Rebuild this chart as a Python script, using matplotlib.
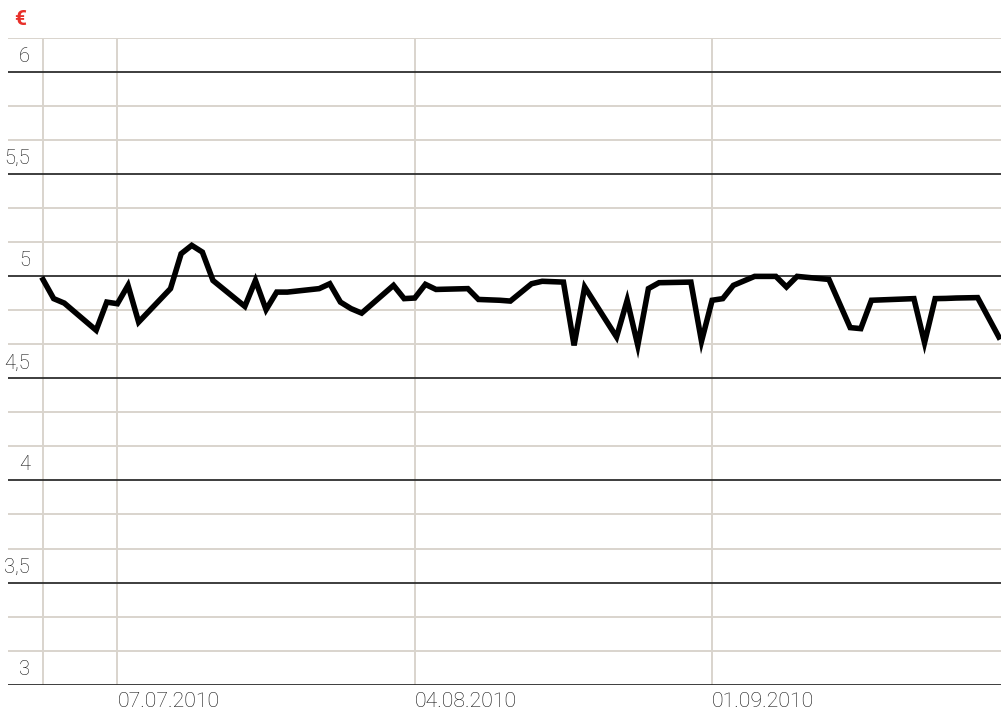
import numpy as np
import pandas as pd
import matplotlib
matplotlib.use("Agg")
import matplotlib.pyplot as plt
import matplotlib.dates as mdates

plt.rcParams['font.family'] = ['Roboto', 'DejaVu Sans']

# share price in EUR
dates = ['2010-06-30', '2010-07-01', '2010-07-02', '2010-07-05', '2010-07-06',
         '2010-07-07', '2010-07-08', '2010-07-09', '2010-07-12', '2010-07-13',
         '2010-07-14', '2010-07-15', '2010-07-16', '2010-07-19', '2010-07-20',
         '2010-07-21', '2010-07-22', '2010-07-23', '2010-07-26', '2010-07-27',
         '2010-07-28', '2010-07-29', '2010-07-30', '2010-08-02', '2010-08-03',
         '2010-08-04', '2010-08-05', '2010-08-06', '2010-08-09', '2010-08-10',
         '2010-08-11', '2010-08-12', '2010-08-13', '2010-08-15', '2010-08-16',
         '2010-08-18', '2010-08-19', '2010-08-20', '2010-08-23', '2010-08-24',
         '2010-08-25', '2010-08-26', '2010-08-27', '2010-08-30', '2010-08-31',
         '2010-09-01', '2010-09-02', '2010-09-03', '2010-09-05', '2010-09-07',
         '2010-09-08', '2010-09-09', '2010-09-12', '2010-09-14', '2010-09-15',
         '2010-09-16', '2010-09-20', '2010-09-21', '2010-09-22', '2010-09-23',
         '2010-09-24', '2010-09-26', '2010-09-28']
prices = [4.984, 4.891, 4.869, 4.736, 4.874,
          4.866, 4.956, 4.776, 4.940, 5.111,
          5.152, 5.119, 4.980, 4.853, 4.980,
          4.837, 4.923, 4.923, 4.940, 4.964,
          4.874, 4.842, 4.820, 4.956, 4.891,
          4.894, 4.961, 4.936, 4.940, 4.887,
          4.885, 4.883, 4.879, 4.964, 4.976,
          4.972, 4.662, 4.948, 4.703, 4.883,
          4.662, 4.940, 4.969, 4.972, 4.682,
          4.883, 4.891, 4.956, 5.000, 5.000,
          4.948, 5.000, 4.985, 4.749, 4.744,
          4.883, 4.891, 4.675, 4.891, 4.892,
          4.894, 4.896, 4.703]

x_ticks = ['2010-06-30', '2010-07-07', '2010-08-04', '2010-09-01']
x_labels = ['', '07.07.2010', '04.08.2010', '01.09.2010']
y_major = [3, 3.5, 4, 4.5, 5, 5.5, 6]
y_labels = ['3', '3,5', '4', '4,5', '5', '5,5', '6']

x = pd.to_datetime(dates)

fig = plt.figure(figsize=(10.01, 7.13), dpi=100)
ax = fig.add_axes([0.008, 0.0393, 0.992, 0.9074])

ax.plot(x, prices, color='black', lw=4.0, solid_joinstyle='miter', zorder=5)

ax.set_xlim(pd.Timestamp('2010-07-07') - pd.Timedelta(days=10.3),
            pd.Timestamp('2010-07-07') + pd.Timedelta(days=83.2))
ax.set_ylim(2.998, 6.168)

ax.set_xticks(pd.to_datetime(x_ticks))
ax.set_xticklabels(x_labels, ha='left', fontsize=15.3, fontweight='light',
                   color='#111111')
ax.set_yticks(y_major)
ax.set_yticks([3 + k / 6 for k in range(20) if k % 3 != 0], minor=True)
ax.set_yticklabels([])
ax.tick_params(axis='both', which='both', length=0)
ax.tick_params(axis='x', pad=5)

ax.xaxis.grid(True, color='#d9d4cd', lw=1.4)
ax.yaxis.grid(True, which='major', color='#2e2e2e', lw=1.3)
ax.yaxis.grid(True, which='minor', color='#d9d4cd', lw=1.4)
ax.set_axisbelow(True)
for s in ax.spines.values():
    s.set_visible(False)

for v, lab in zip(y_major, y_labels):
    ax.annotate(lab, xy=(0.0222, v), xycoords=('axes fraction', 'data'),
                xytext=(0, 7.2), textcoords='offset points',
                ha='right', va='baseline', fontsize=14.5, fontweight='light',
                color='#111111')

fig.text(0.0205, 0.972, '€', color='#e8302a', fontsize=15, fontweight='bold',
         ha='center', va='center')

fig.savefig('out.png', dpi=100)
